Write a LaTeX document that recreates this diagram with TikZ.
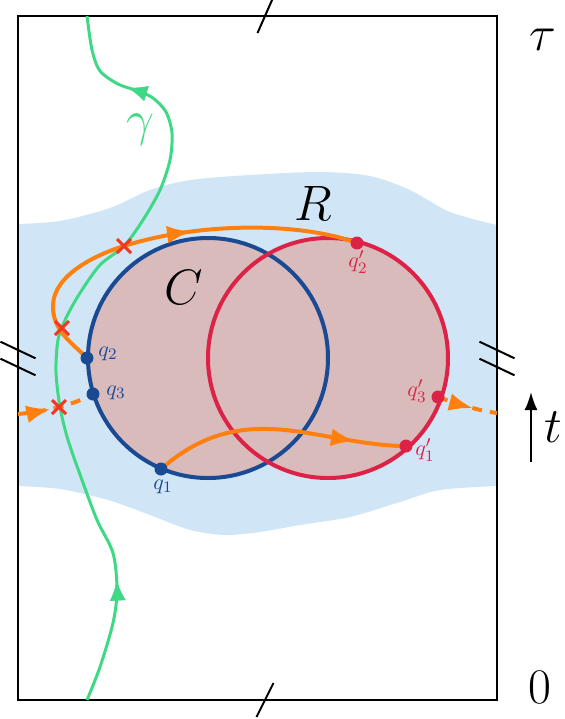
\documentclass[tikz,border=0pt]{standalone}
\usetikzlibrary{arrows.meta,decorations.markings}
\definecolor{regionblue}{RGB}{208,230,247}
\definecolor{unionfill}{RGB}{218,187,188}
\definecolor{cblue}{RGB}{26,74,147}
\definecolor{cred}{RGB}{220,35,71}
\definecolor{corange}{RGB}{255,128,14}
\definecolor{cgreen}{RGB}{63,217,133}
\definecolor{ccross}{RGB}{240,55,35}
\tikzset{
  frame/.style={line width=1pt},
  tick/.style={line width=1pt},
  circC/.style={draw=cblue,line width=2pt},
  circR/.style={draw=cred,line width=2pt},
  orangepath/.style={draw=corange,line width=2pt},
  dashpath/.style={draw=corange,line width=2pt,dash pattern=on 5pt off 4pt},
  greenpath/.style={draw=cgreen,line width=1.5pt},
  crossmark/.style={draw=ccross,line width=1.5pt},
  midarrow/.style={postaction={decorate},decoration={markings,
     mark=at position #1 with {\arrow[solid]{Latex[length=12pt,width=9pt]}}}},
  greenarrow/.style={postaction={decorate},decoration={markings,
     mark=at position #1 with {\arrow[solid]{Latex[length=10pt,width=8pt]}}}},
  bluedot/.style={circle,fill=cblue,inner sep=0pt,minimum size=6.5pt},
  reddot/.style={circle,fill=cred,inner sep=0pt,minimum size=6.5pt},
  biglabel/.style={font=\Huge},
  qlabel/.style={font=\fontsize{10.95}{13}\selectfont},
}
\begin{document}
\begin{tikzpicture}[x=0.5pt,y=-0.5pt]
\useasboundingbox (0,0) rectangle (564,719);
% light blue region
\fill[regionblue] plot[smooth] coordinates {(18,224) (60,221) (110,208) (150,190) (190,180) (250,175) (320,172) (370,176) (410,190) (450,212) (497,225)}
  -- plot[smooth] coordinates {(497,486) (440,490) (400,502) (350,517) (300,525) (260,532) (225,535) (190,530) (150,515) (108,500) (60,489) (18,486)} -- cycle;
% circles
\coordinate (cC) at (208,358);
\coordinate (cR) at (328,358);
\fill[unionfill] (cC) circle (60pt) (cR) circle (60pt);
\draw[circC] (cC) circle (60pt);
\draw[circR] (cR) circle (60pt);
% frame
\draw[frame] (18,16) rectangle (497,700);
% ticks
\draw[tick] (265,16) +(-7.5,17) -- +(7.5,-17);
\draw[tick] (265,700) +(-8.5,17) -- +(8.5,-17);
\draw[tick] (18,350) +(-17.5,-8.3) -- +(17.5,8.3);
\draw[tick] (18,367) +(-17.5,-8.3) -- +(17.5,8.3);
\draw[tick] (497,350) +(-17.5,-8.3) -- +(17.5,8.3);
\draw[tick] (497,367) +(-17.5,-8.3) -- +(17.5,8.3);
% points
\coordinate (q1) at (161,469);
\coordinate (q2) at (87,358);
\coordinate (q3) at (93,394);
\coordinate (p1) at (406,446);
\coordinate (p2) at (357,243);
\coordinate (p3) at (438,397);
\coordinate (inL) at (18,414);
\coordinate (outR) at (497,413);
\coordinate (gbot) at (87,700);
\coordinate (gtop) at (87,16);
% green curve
\draw[greenpath,greenarrow=0.16,greenarrow=0.885] plot[smooth] coordinates {(gbot) (100,667) (113,623) (117,590) (113,553) (97,520) (82,480) (68,440) (60,407) (56,372) (58,340) (66,318) (80,293) (100,265) (124,246) (143,220) (160,190) (170,160) (172,133) (166,112) (153,98) (138,91) (118,84) (100,71) (92,50) (gtop)};
% orange curves
\draw[orangepath,midarrow=0.58] (q2) .. controls (72,343) and (52,330) .. (53,305)
  .. controls (54,275) and (95,255) .. (124,246)
  .. controls (200,222) and (300,222) .. (p2);
\draw[orangepath,midarrow=0.8] (q1) .. controls (200,435) and (235,428) .. (270,429)
  .. controls (310,430) and (360,446) .. (p1);
\draw[dashpath,midarrow=0.42] (inL) .. controls (50,411) and (75,404) .. (q3);
\draw[dashpath,midarrow=0.6] (p3) .. controls (455,403) and (475,410) .. (outR);
% crosses
\draw[crossmark] (124,246) +(-7,-7) -- +(7,7) +(-7,7) -- +(7,-7);
\draw[crossmark] (62,328) +(-7,-7) -- +(7,7) +(-7,7) -- +(7,-7);
\draw[crossmark] (59,407) +(-7,-7) -- +(7,7) +(-7,7) -- +(7,-7);
% dots
\node[bluedot] (dq1) at (q1) {};
\node[bluedot] (dq2) at (q2) {};
\node[bluedot] (dq3) at (q3) {};
\node[reddot] (dp1) at (p1) {};
\node[reddot] (dp2) at (p2) {};
\node[reddot] (dp3) at (p3) {};
% labels
\node[qlabel,text=cblue] (lq1) at (163,487) {$q_1$};
\node[qlabel,text=cblue] (lq2) at (108,354) {$q_2$};
\node[qlabel,text=cblue] (lq3) at (116,393) {$q_3$};
\node[qlabel,text=cred] (lp1) at (425,450) {$q'_1$};
\node[qlabel,text=cred] (lp2) at (358,262) {$q'_2$};
\node[qlabel,text=cred] (lp3) at (417,391) {$q'_3$};
\node[biglabel] (lC) at (184,287) {$C$};
\node[biglabel] (lR) at (313,203) {$R$};
\node[biglabel,text=cgreen] (lg) at (140,130) {$\gamma$};
\node[biglabel] (ltau) at (543,40) {$\tau$};
\node[biglabel] (lzero) at (540,687) {$0$};
\node[biglabel] (lt) at (553,427) {$t$};
\coordinate (tb) at (531,462);
\coordinate (tt) at (531,392);
\draw[line width=1pt,-{Latex[length=9pt,width=6.5pt]}] (tb) -- (tt);
\end{tikzpicture}
\end{document}
